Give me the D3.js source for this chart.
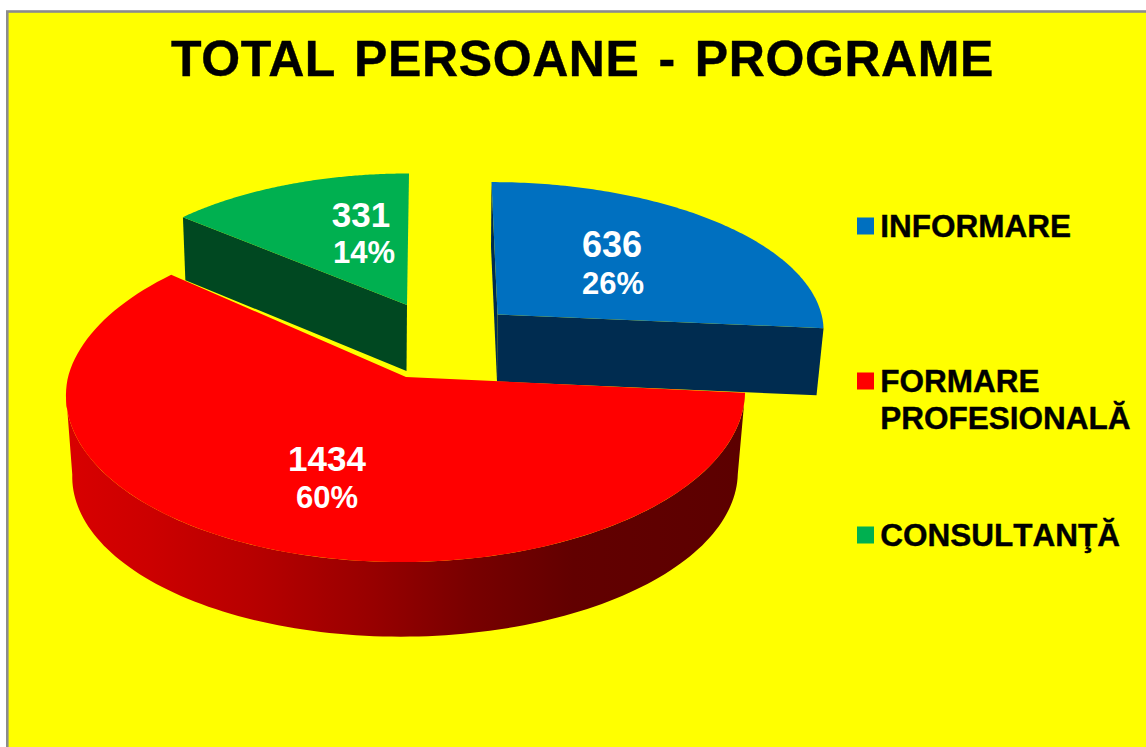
<!DOCTYPE html>
<html><head><meta charset="utf-8">
<script src="https://cdn.jsdelivr.net/npm/d3@7"></script>
<style>html,body{margin:0;padding:0;background:#fff;overflow:hidden}svg{display:block}text{font-family:"Liberation Sans",Arial,sans-serif;font-weight:bold;font-kerning:none}</style>
</head><body><svg id="c" width="1146" height="747"></svg>
<script>
const categories = ["INFORMARE", "FORMARE PROFESIONALĂ", "CONSULTANŢĂ"];
const legendLines = [["INFORMARE"], ["FORMARE", "PROFESIONALĂ"], ["CONSULTANŢĂ"]];
const values = [636, 1434, 331];
const percentLabels = ["26%", "60%", "14%"];
const faceColors = ["#0070c0", "#ff0000", "#00b050"];
const wallColors = ["#002c50", "#600000", "#004821"];
const titleText = "TOTAL PERSOANE - PROGRAME";

const svg = d3.select("#c");
svg.append("rect").attr("x",7.3).attr("y",11.5).attr("width",1300).attr("height",900)
  .attr("fill","#ffff00").attr("stroke","#8c8c8c").attr("stroke-width",2.6);

const defs = svg.append("defs");
const grad = defs.append("linearGradient").attr("id","redWall").attr("gradientUnits","userSpaceOnUse")
  .attr("x1",70).attr("x2",740).attr("y1",0).attr("y2",0);
[[0,"#d80000"],[.12,"#cc0000"],[.28,"#b60000"],[.45,"#980000"],[.6,"#780000"],[.75,"#620000"],[1,"#5c0000"]]
  .forEach(([o,c])=>grad.append("stop").attr("offset",o).attr("stop-color",c));

// perspective disc geometry per slice: centre, radii, depth
const k = .095;
const geo = [
  {cx:497.5, cy:314.5, R:324, Rv:145, D:67, c:.03, ys:1, lean:-6, leanF:-6, xs:.98, lx:612, ly:257, ply:294, plx:613, fs:36},
  {cx:406, cy:377, R:338, Rv:167.5, D:82, c:0, ys:.96, lean:12, leanF:5, xs:.98, lx:327, ly:471, ply:508, plx:327, fs:35},
  {cx:407, cy:305, R:314, Rv:144, D:66, c:.07, ys:1, lean:2, leanF:2, xs:.987, lx:361, ly:227, ply:263, plx:364, fs:35}
];
const leanAt=(g,Z)=>(Z>0?g.lean:g.leanF)*Z;
function topPt(g,a){const X=Math.sin(a),Z=Math.cos(a),s=1/(1+k*Z);
  return [g.cx+leanAt(g,Z)+g.R*X*s, g.cy-g.Rv*Z*s];}
function botPt(g,a){const X=Math.sin(a),Z=Math.cos(a),s=1/(1+k*Z);
  return [g.cx-.5+leanAt(g,Z)+g.R*g.xs*X*s, g.cy-g.Rv*g.ys*Z*s+g.D*(1-g.c*Z)];}
function centerBot(g){return [g.cx-.5,g.cy+g.D];}

const arcs = d3.pie().sort(null).startAngle(0).endAngle(2*Math.PI)(values);
const line = d3.line().curve(d3.curveLinear);
const samples = (a,b)=>d3.range(0,121).map(i=>a+(b-a)*i/120);

const order = [0,2,1];
order.forEach(i=>{
  const g=geo[i],a=arcs[i],c=[g.cx,g.cy],cb=centerBot(g);
  const grp=svg.append("g");
  if(i===0){
    grp.append("path").attr("fill",wallColors[0])
      .attr("d",line([topPt(g,a.startAngle),c,cb,botPt(g,a.startAngle)])+"Z");
    grp.append("path").attr("fill",wallColors[0])
      .attr("d",line([c,topPt(g,a.endAngle),botPt(g,a.endAngle),cb])+"Z");
  }
  if(i===2){
    grp.append("path").attr("fill",wallColors[2])
      .attr("d",line([c,topPt(g,a.startAngle),botPt(g,a.startAngle),cb])+"Z");
  }
  if(i===1){
    const la=2*Math.PI-Math.acos(-k); // silhouette angle on the left side
    const as=samples(a.startAngle,la);
    grp.append("path").attr("fill","url(#redWall)")
      .attr("d",line(as.map(t=>topPt(g,t)).concat(as.slice().reverse().map(t=>botPt(g,t))))+"Z");
  }
  grp.append("path").attr("fill",faceColors[i])
    .attr("d",line([c].concat(samples(a.startAngle,a.endAngle).map(t=>topPt(g,t))))+"Z");
});

// data labels
geo.forEach((g,i)=>{
  svg.append("text").attr("x",g.lx).attr("y",g.ly).attr("text-anchor","middle")
    .attr("font-size",g.fs).attr("fill","#fff").text(values[i]);
  svg.append("text").attr("x",g.plx).attr("y",g.ply).attr("text-anchor","middle")
    .attr("font-size",31).attr("fill","#fff").text(percentLabels[i]);
});

// title
svg.append("text").attr("x",171).attr("y",76).attr("font-size",50).attr("letter-spacing",.6).attr("word-spacing",4.5)
  .style("font-kerning","normal")
  .attr("fill","#000").attr("stroke","#000").attr("stroke-width",.4).text(titleText);

// legend
const legendBase = [237,392,546];
categories.forEach((c,i)=>{
  svg.append("rect").attr("x",857).attr("y",legendBase[i]-19.5).attr("width",17).attr("height",17).attr("fill",faceColors[i]);
  legendLines[i].forEach((l,j)=>{
    svg.append("text").attr("x",880.3).attr("y",legendBase[i]+j*36.5).attr("font-size",31.5)
      .attr("fill","#000").attr("stroke","#000").attr("stroke-width",.4).text(l);
  });
});
</script></body></html>
